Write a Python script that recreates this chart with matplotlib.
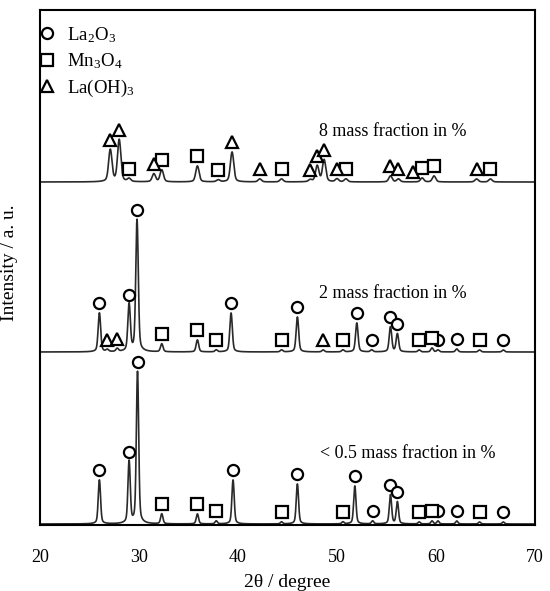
import matplotlib
matplotlib.use("Agg")
import matplotlib.pyplot as plt
from matplotlib.lines import Line2D
import numpy as np

plt.rcParams['font.family'] = ['Liberation Serif']
plt.rcParams['mathtext.fontset'] = 'stix'

# peak positions (2theta), heights above baseline, phase marker
low_pos = [26.0, 29.0, 29.85, 32.3, 35.9, 37.8, 39.5, 44.4, 46.0, 50.6, 51.8,
           53.6, 55.4, 56.1, 58.3, 59.6, 60.2, 62.1, 64.4, 66.8]
low_h = [44, 62, 152, 10, 10, 3, 44, 2, 40, 2, 38, 3, 29, 22, 2, 3, 3, 3, 2, 2]
low_ph = ['o', 'o', 'o', 's', 's', 's', 'o', 's', 'o', 's', 'o',
          'o', 'o', 'o', 's', 's', 'o', 'o', 's', 'o']

mid_pos = [26.0, 26.8, 27.8, 29.0, 29.8, 32.3, 35.9, 37.8, 39.3, 44.4, 46.0,
           48.6, 50.6, 52.0, 53.5, 55.4, 56.1, 58.3, 59.6, 60.2, 62.1, 64.4, 66.8]
mid_h = [39, 2, 3, 47, 132, 8, 12, 2, 39, 2, 35, 2, 2, 29, 2, 25, 18, 2, 4, 2, 3, 2, 2]
mid_ph = ['o', '^', '^', 'o', 'o', 's', 's', 's', 'o', 's', 'o',
          '^', 's', 'o', 'o', 'o', 'o', 's', 's', 'o', 'o', 's', 'o']

high_pos = [27.1, 28.0, 29.0, 31.5, 32.3, 35.9, 38.0, 39.4, 42.2, 44.4, 47.3,
            48.0, 48.7, 50.0, 50.9, 55.4, 56.2, 57.7, 58.6, 59.8, 64.1, 65.5]
high_h = [32, 42, 3, 8, 12, 16, 2, 30, 3, 3, 2, 16, 22, 3, 3, 6, 3, 0, 4, 6, 3, 3]
high_ph = ['^', '^', 's', '^', 's', 's', 's', '^', '^', 's', '^',
           '^', '^', '^', 's', '^', '^', '^', 's', 's', '^', 's']

baselines = [1, 173, 343]
widths = [0.11, 0.12, 0.16]
labels = ['< 0.5 mass fraction in %', '2 mass fraction in %', '8 mass fraction in %']
label_xy = [(57.1, 72), (55.6, 232), (55.6, 393)]

legend_names = ['La$_\\mathregular{2}$O$_\\mathregular{3}$',
                'Mn$_\\mathregular{3}$O$_\\mathregular{4}$',
                'La(OH)$_\\mathregular{3}$']

fig = plt.figure(figsize=(5.5, 5.91), dpi=100)
ax = fig.add_axes([40 / 550, 66 / 591, 495 / 550, 515 / 591])

x = np.linspace(20, 70, 3001)
traces = [(low_pos, low_h, low_ph), (mid_pos, mid_h, mid_ph), (high_pos, high_h, high_ph)]
for (pos, h, ph), base, w in zip(traces, baselines, widths):
    y = np.full_like(x, base, dtype=float)
    for p, hh in zip(pos, h):
        g = np.exp(-0.5 * ((x - p) / w) ** 2)
        lor = 1 / (1 + ((x - p) / (2 * w)) ** 2)
        y += hh * (0.8 * g + 0.2 * lor)
    ax.plot(x, y, color='#2a2a2a', lw=1.2, zorder=2)
    for m in ['o', 's', '^']:
        mx = [p for p, k in zip(pos, ph) if k == m]
        my = [base + hh + 10 for hh, k in zip(h, ph) if k == m]
        ax.plot(mx, my, marker=m, ms=8 if m != '^' else 8.5,
                mfc='white', mec='black', mew=1.6, ls='none', zorder=3)

for txt, (tx, ty) in zip(labels, label_xy):
    ax.text(tx, ty, txt, ha='center', va='center', fontsize=13)

handles = [Line2D([], [], marker=m, ls='none', ms=8, mfc='white', mec='black', mew=1.6)
           for m in ['o', 's', '^']]
ax.legend(handles, legend_names, loc='upper left', bbox_to_anchor=(-0.032, 1.0),
          frameon=False, fontsize=13.5, handlelength=0.8, handletextpad=0.7,
          labelspacing=0.35, borderaxespad=0.4)

ax.set_xlim(20, 70)
ax.set_ylim(0, 515)
ax.set_yticks([])
ax.set_xticks([20, 30, 40, 50, 60, 70])
ax.tick_params(axis='x', length=0, pad=17, labelsize=13)
for s in ax.spines.values():
    s.set_linewidth(1.5)

ax.set_xlabel('2θ / degree', fontsize=14)
ax.xaxis.set_label_coords(0.5, -0.095)
ax.set_ylabel('Intensity / a. u.', fontsize=14)
ax.yaxis.set_label_coords(-0.045, 0.51)

fig.savefig('out.png', dpi=100)
